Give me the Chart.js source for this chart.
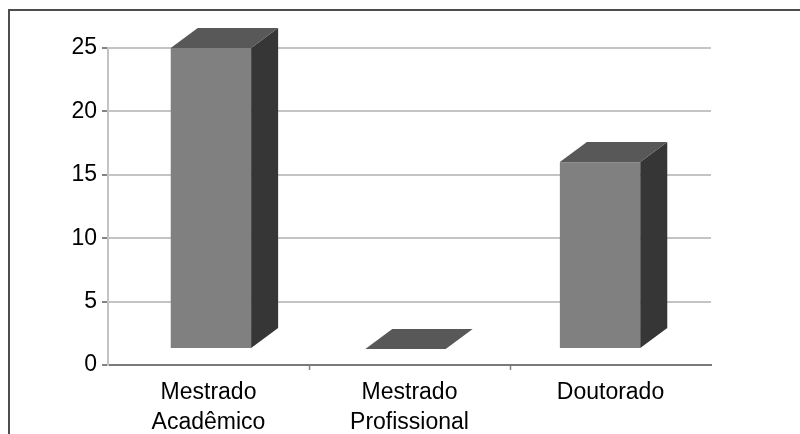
<!DOCTYPE html>
<html>
<head>
<meta charset="utf-8">
<script src="https://cdn.jsdelivr.net/npm/chart.js@4/dist/chart.umd.min.js"></script>
<style>
  html, body { margin: 0; padding: 0; background: #fff; }
  #wrap { width: 800px; height: 434px; position: relative; overflow: hidden; }
</style>
</head>
<body>
<div id="wrap"><canvas id="c" width="800" height="434"></canvas></div>
<script>
// Programas de pós-graduação
const categories = [['Mestrado', 'Acadêmico'], ['Mestrado', 'Profissional'], 'Doutorado'];
const counts = [25, 0, 16];
const yTicks = [0, 5, 10, 15, 20, 25];

// Shading of the extruded columns
const FRONT = '#808080';
const TOP = '#585858';
const SIDE = '#363636';
const DX = 27;        // depth offset to the right
const DY = 20;        // depth offset upwards
const LIFT = 16;      // columns stand slightly above the axis line
const PERSP = 0.968;  // slight perspective pull of the columns toward the middle
const SHIFT = -4;

const FONT = { family: '"Liberation Sans", Arial, sans-serif', size: 23, lineHeight: 1.32 };

function poly(ctx, pts, color) {
  ctx.beginPath();
  ctx.moveTo(pts[0][0], pts[0][1]);
  for (let i = 1; i < pts.length; i++) ctx.lineTo(pts[i][0], pts[i][1]);
  ctx.closePath();
  ctx.fillStyle = color;
  ctx.fill();
}

const prismPlugin = {
  id: 'prism',
  beforeDraw(chart) {
    const c = chart.ctx;
    c.save();
    c.fillStyle = '#fff';
    c.fillRect(0, 0, chart.width, chart.height);
    // frame running off the right and bottom edges
    c.fillStyle = '#4d4d4d';
    c.fillRect(8, 9, chart.width, 2);
    c.fillRect(8, 9, 2, chart.height);
    c.restore();
  },
  afterDatasetsDraw(chart) {
    const c = chart.ctx;
    const area = chart.chartArea;
    const mid = (area.left + area.right) / 2;
    c.save();
    chart.getDatasetMeta(0).data.forEach(bar => {
      const { x: x0, y, base, width } = bar.getProps(['x', 'y', 'base', 'width'], true);
      const x = mid + (x0 - mid) * PERSP + SHIFT;
      const L = x - width / 2, R = x + width / 2;
      const bottom = base - LIFT;
      const top = Math.min(y, bottom);
      if (bottom - top > 0) {
        c.fillStyle = FRONT;
        c.fillRect(L, top, width, bottom - top);
        poly(c, [[R, top], [R + DX, top - DY], [R + DX, bottom - DY], [R, bottom]], SIDE);
      }
      poly(c, [[L, top], [R, top], [R + DX, top - DY], [L + DX, top - DY]], TOP);
    });
    c.restore();
  }
};

new Chart(document.getElementById('c'), {
  type: 'bar',
  data: {
    labels: categories,
    datasets: [{
      data: counts,
      backgroundColor: 'rgba(0,0,0,0)',
      borderWidth: 0,
      barPercentage: 0.4,
      categoryPercentage: 1
    }]
  },
  plugins: [prismPlugin],
  options: {
    responsive: false,
    animation: false,
    devicePixelRatio: 1,
    layout: { padding: { top: 48, right: 89, bottom: 0, left: 0 } },
    plugins: { legend: { display: false }, tooltip: { enabled: false } },
    scales: {
      x: {
        offset: true,
        grid: {
          offset: true,
          drawOnChartArea: false,
          tickLength: 5,
          tickWidth: 1.5,
          tickColor: ctx => (ctx.type !== 'tick' || ctx.index === 0) ? 'rgba(0,0,0,0)' : '#808080'
        },
        border: { color: '#7a7a7a', width: 2 },
        ticks: { color: '#000', font: FONT, padding: 7, maxRotation: 0, autoSkip: false },
        afterFit(s) { s.height = 69; }
      },
      y: {
        min: 0,
        max: 25,
        afterBuildTicks(s) { s.ticks = yTicks.map(v => ({ value: v })); },
        grid: {
          color: ctx => (ctx.tick && ctx.tick.value === 0) ? '#7a7a7a' : '#c4c4c4',
          lineWidth: 2,
          tickLength: 6,
          tickColor: '#5a5a5a',
          tickWidth: 1.5
        },
        border: { color: '#c4c4c4', width: 2 },
        ticks: { color: '#000', font: FONT, padding: 5 },
        afterFit(s) { s.width = 108; }
      }
    }
  }
});
</script>
</body>
</html>
